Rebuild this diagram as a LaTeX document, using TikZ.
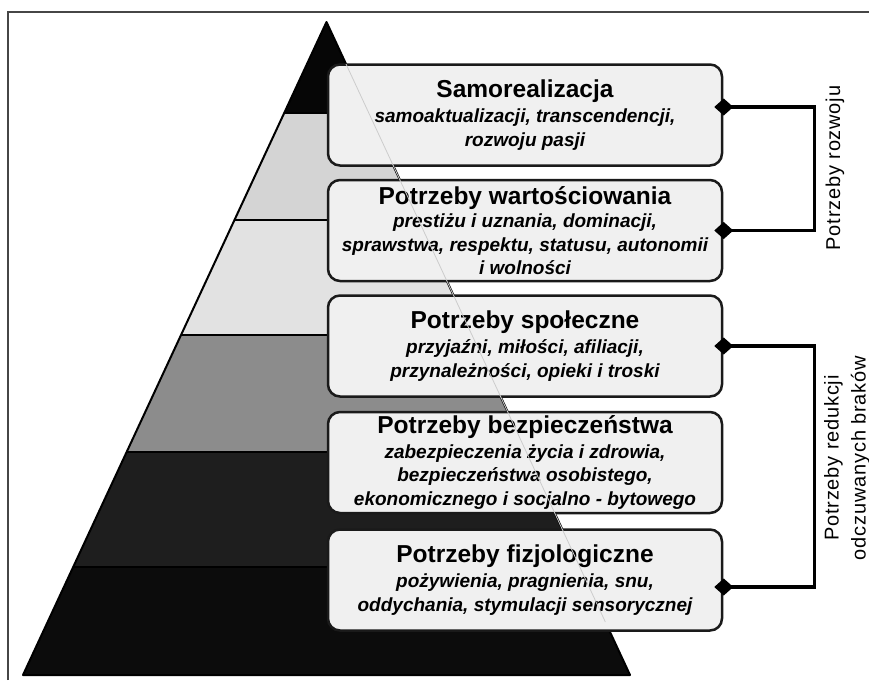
\documentclass[tikz,border=0pt]{standalone}
\usepackage{fontspec}
\setmainfont{Liberation Sans}
\usepackage{xcolor}
\usetikzlibrary{arrows.meta}
\usetikzlibrary{positioning, math}
\definecolor{topband}{RGB}{6,6,6}
\definecolor{lightband}{RGB}{212,212,212}
\definecolor{paleband}{RGB}{226,226,226}
\definecolor{midband}{RGB}{140,140,140}
\definecolor{darkband}{RGB}{30,30,30}
\definecolor{baseband}{RGB}{12,12,12}
\definecolor{boxfill}{RGB}{240,240,240}
\definecolor{boxline}{RGB}{26,26,26}
\definecolor{framegray}{RGB}{70,70,70}

\newcommand{\titlef}{\fontsize{24.5}{27}\selectfont\bfseries\upshape}
\newcommand{\subf}{\fontsize{19}{23.5}\selectfont\bfseries\itshape}

\begin{document}
\begin{tikzpicture}[x=1pt,y=-1pt,
  needbox/.style={draw=boxline, line width=2.5pt, fill=boxfill, rounded corners=12pt,
    minimum width=394pt, minimum height=101pt, align=center, inner sep=1pt, font=\subf},
  bracket/.style={line width=3.5pt, >={Diamond[length=19pt,width=17pt]}, <->,
    shorten <=-9pt, shorten >=-9pt},
  grouplabel/.style={font=\fontsize{20}{27}\selectfont\addfontfeature{LetterSpace=4}, rotate=90, align=center}]
\tikzmath{
\apx=326.5; \apy=22;
\baseY=675; \half=303.5;
\slope=\half/(\baseY-\apy);
}
\useasboundingbox (0,0) rectangle (869,680);

% frame
\draw[framegray, line width=1.5pt] (8,680) -- (8,12) -- (869,12);

% pyramid bands
\begin{scope}
\clip (\apx,\apy) -- (\apx-\half,\baseY) -- (\apx+\half,\baseY) -- cycle;
\foreach \ya/\yb/\col in {0/113/topband, 113/220/lightband, 220/335/paleband,
    335/452/midband, 452/567/darkband, 567/680/baseband}{
  \fill[\col] (0,\ya) rectangle (869,\yb);
}
\foreach \yl in {113,220,335,452,567}{
  \draw[line width=2.5pt, black] (0,\yl) -- (869,\yl);
}
\end{scope}
\draw[line width=2pt, line join=round] (\apx,\apy) -- (\apx-\half,\baseY) -- (\apx+\half,\baseY) -- cycle;

% boxes
\node[needbox] (samo) at (525,115)
  {{\titlef Samorealizacja}\\[2pt] samoaktualizacji, transcendencji,\\ rozwoju pasji};
\node[needbox, below=12pt of samo] (wart)
  {{\titlef Potrzeby wartościowania}\\[0pt] prestiżu i uznania, dominacji,\\ sprawstwa, respektu, statusu, autonomii\\ i wolności};
\node[needbox, below=12pt of wart] (spol)
  {{\titlef Potrzeby społeczne}\\[2pt] przyjaźni, miłości, afiliacji,\\ przynależności, opieki i troski};
\node[needbox, below=13pt of spol] (bezp)
  {{\titlef Potrzeby bezpieczeństwa}\\[1pt] zabezpieczenia życia i zdrowia,\\ bezpieczeństwa osobistego,\\ ekonomicznego i socjalno - bytowego};
\node[needbox, below=14pt of bezp] (fizjo)
  {{\titlef Potrzeby fizjologiczne}\\[2pt] pożywienia, pragnienia, snu,\\ oddychania, stymulacji sensorycznej};

% faint pyramid edge over the boxes
\draw[gray!40, line width=0.8pt] ({\apx+\slope*(64-\apy)},64)
  -- ({\apx+\slope*(622-\apy)},622);

% groups
\draw[bracket] ([yshift=8pt]samo.east) -- ++(91,0) |- (wart.east);
\draw[bracket] (spol.east) -- ++(91,0) |- ([yshift=-7pt]fizjo.east);
\node[grouplabel] (rozwoj) at (835,168) {Potrzeby rozwoju};
\node[grouplabel] (braki) at (847,458) {Potrzeby redukcji\\odczuwanych braków};
\end{tikzpicture}
\end{document}
